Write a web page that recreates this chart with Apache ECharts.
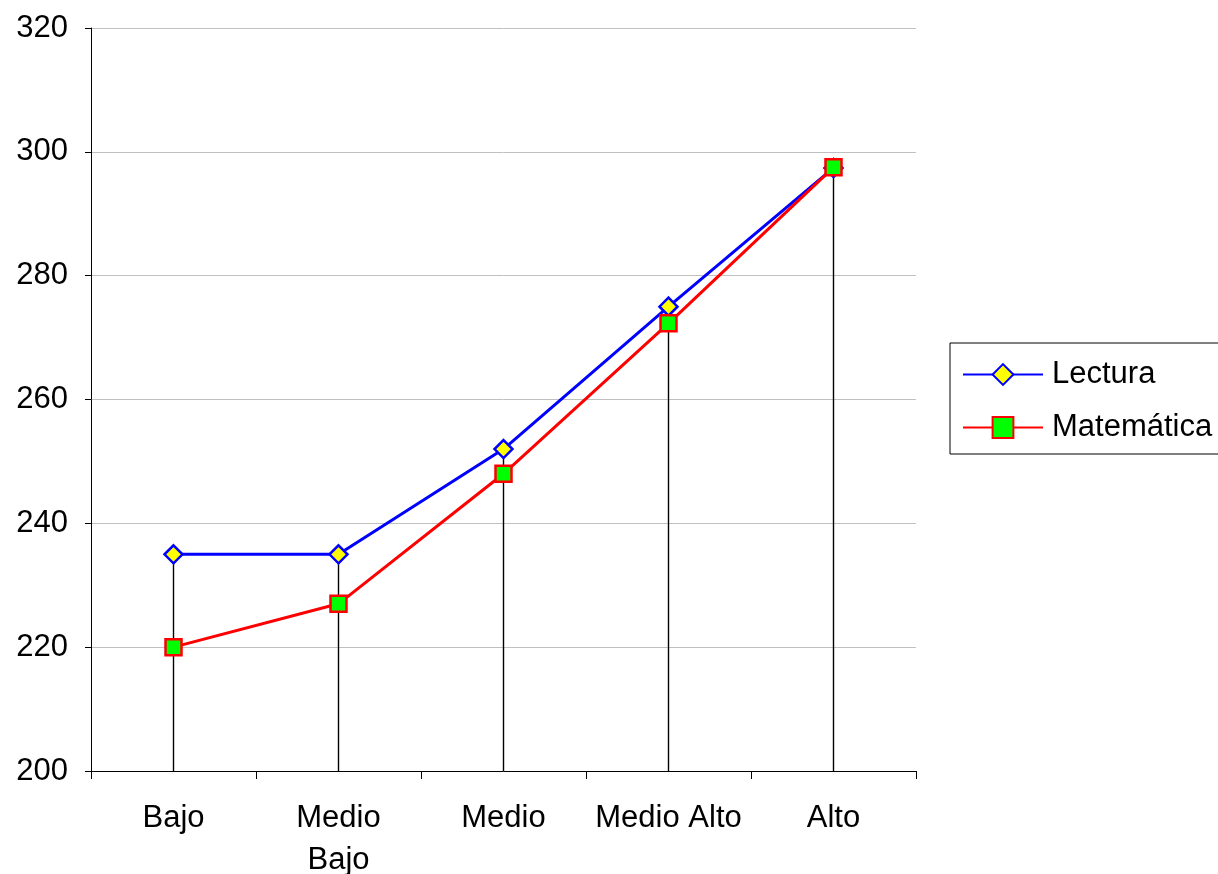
<!DOCTYPE html>
<html>
<head>
<meta charset="utf-8">
<script src="https://cdn.jsdelivr.net/npm/echarts@6/dist/echarts.min.js"></script>
<style>html,body{margin:0;padding:0;background:#fff}#c{width:1218px;height:874px}</style>
</head>
<body>
<div id="c"></div>
<script>
const categories = ['Bajo', 'Medio\nBajo', 'Medio', 'Medio Alto', 'Alto'];
const lectura = [235, 235, 252, 275, 297.4];
const matematica = [220, 227, 248, 272.3, 297.5];
const yTicks = { min: 200, max: 320, interval: 20 };

const dropTops = categories.map((c, i) => Math.max(lectura[i], matematica[i]));
const font = '"Liberation Sans", Arial, sans-serif';

const chart = echarts.init(document.getElementById('c'), null, { renderer: 'canvas' });
chart.setOption({
  animation: false,
  backgroundColor: '#ffffff',
  grid: { left: 91, right: 302, top: 28, bottom: 103, containLabel: false, outerBoundsMode: 'none' },
  legend: {
    orient: 'vertical',
    left: 950,
    top: 343,
    padding: [16, 8, 11, 12],
    itemWidth: 80,
    itemHeight: 26,
    itemGap: 22,
    borderColor: '#000',
    borderWidth: 1,
    data: ['Lectura', 'Matemática'],
    textStyle: { fontFamily: font, fontSize: 31, color: '#000', lineHeight: 31, padding: [0, 0, 0, 4] }
  },
  xAxis: {
    type: 'category',
    data: categories,
    boundaryGap: true,
    axisLine: { lineStyle: { color: '#000', width: 1 } },
    axisTick: { show: true, length: 8, lineStyle: { color: '#000' } },
    axisLabel: { color: '#000', fontFamily: font, fontSize: 31, lineHeight: 42, margin: 26, interval: 0 },
    splitLine: { show: false }
  },
  yAxis: {
    type: 'value',
    min: yTicks.min,
    max: yTicks.max,
    interval: yTicks.interval,
    axisLine: { show: true, lineStyle: { color: '#000', width: 1 } },
    axisTick: { show: true, length: 6, lineStyle: { color: '#000' } },
    axisLabel: { color: '#000', fontFamily: font, fontSize: 31, margin: 23 },
    splitLine: { show: true, lineStyle: { color: '#c0c0c0', width: 1 } }
  },
  series: [
    {
      name: 'drop',
      type: 'bar',
      data: dropTops,
      barWidth: 1.4,
      itemStyle: { color: '#000' },
      silent: true,
      z: 1
    },
    {
      name: 'Lectura',
      type: 'line',
      data: lectura,
      symbol: 'diamond',
      symbolSize: 18,
      lineStyle: { color: '#0000ff', width: 3 },
      itemStyle: { color: '#ffff00', borderColor: '#0000ff', borderWidth: 2.5 },
      z: 3
    },
    {
      name: 'Matemática',
      type: 'line',
      data: matematica,
      symbol: 'rect',
      symbolSize: 16,
      lineStyle: { color: '#ff0000', width: 3 },
      itemStyle: { color: '#00ff00', borderColor: '#ff0000', borderWidth: 2.5 },
      z: 4
    }
  ]
});
</script>
</body>
</html>
